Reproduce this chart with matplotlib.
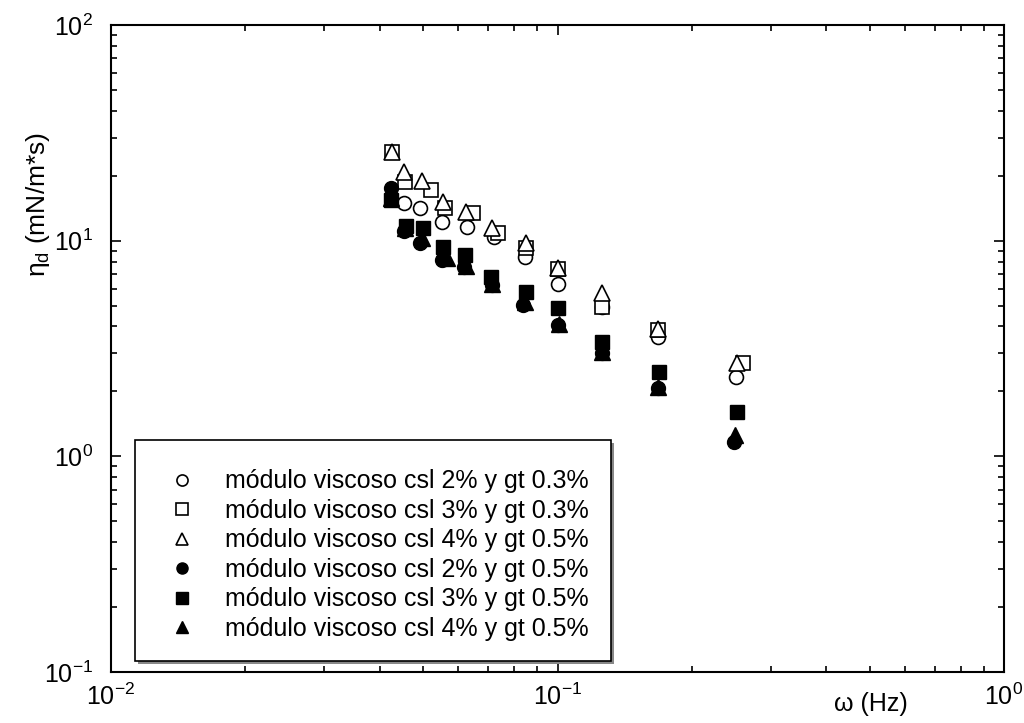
import matplotlib
matplotlib.use("Agg")
import matplotlib.pyplot as plt
from matplotlib.patches import Rectangle
from matplotlib.ticker import LogLocator, LogFormatterSciNotation, NullFormatter

plt.rcParams['font.family'] = ['Liberation Sans', 'DejaVu Sans']
plt.rcParams['mathtext.fontset'] = 'custom'
plt.rcParams['mathtext.rm'] = 'Liberation Sans'
plt.rcParams['mathtext.it'] = 'Liberation Sans:italic'
plt.rcParams['mathtext.default'] = 'regular'

# Frequency (Hz) and dilatational viscosity (mN/m*s) for each formulation
x_c2_gt03 = [0.0452, 0.0491, 0.0550, 0.0628, 0.0719, 0.0844, 0.100, 0.126, 0.1675, 0.2515]
y_c2_gt03 = [15.0, 14.2, 12.2, 11.6, 10.4, 8.4, 6.3, 4.9, 3.58, 2.33]

x_c3_gt03 = [0.0425, 0.0456, 0.0520, 0.0561, 0.0648, 0.0734, 0.0852, 0.100, 0.126, 0.1675, 0.2607]
y_c3_gt03 = [25.8, 18.7, 17.2, 14.2, 13.4, 10.9, 9.25, 7.4, 4.93, 3.86, 2.71]

x_c4_gt05o = [0.0425, 0.0454, 0.0496, 0.0555, 0.0625, 0.0715, 0.0852, 0.100, 0.126, 0.1675, 0.2528]
y_c4_gt05o = [25.8, 20.8, 18.9, 15.1, 13.6, 11.5, 9.76, 7.47, 5.72, 3.90, 2.71]

x_c2_gt05 = [0.0423, 0.0452, 0.0493, 0.0552, 0.0616, 0.0715, 0.0835, 0.100, 0.126, 0.1675, 0.2490]
y_c2_gt05 = [17.6, 11.1, 9.76, 8.14, 7.55, 6.23, 5.03, 4.07, 3.02, 2.07, 1.17]

x_c3_gt05 = [0.0423, 0.0459, 0.0499, 0.0555, 0.0622, 0.0708, 0.0848, 0.100, 0.126, 0.1684, 0.2528]
y_c3_gt05 = [15.4, 11.7, 11.4, 9.35, 8.59, 6.79, 5.78, 4.88, 3.39, 2.46, 1.61]

x_c4_gt05 = [0.0423, 0.0456, 0.0496, 0.0567, 0.0625, 0.0715, 0.0844, 0.101, 0.126, 0.1675, 0.2502]
y_c4_gt05 = [15.8, 11.5, 10.3, 8.3, 7.6, 6.3, 5.2, 4.1, 3.05, 2.1, 1.26]

labels = [
    "módulo viscoso csl 2% y gt 0.3%",
    "módulo viscoso csl 3% y gt 0.3%",
    "módulo viscoso csl 4% y gt 0.5%",
    "módulo viscoso csl 2% y gt 0.5%",
    "módulo viscoso csl 3% y gt 0.5%",
    "módulo viscoso csl 4% y gt 0.5%",
]

fig = plt.figure(figsize=(10.24, 7.23), dpi=100)
ax = fig.add_axes([111 / 1024, 1 - 672 / 723, 893 / 1024, 647 / 723])

open_kw = dict(ls='none', mfc='white', mec='black', mew=1.2)
fill_kw = dict(ls='none', mfc='black', mec='black', mew=1.0)

h1, = ax.plot(x_c2_gt03, y_c2_gt03, marker='o', ms=10, **open_kw)
h2, = ax.plot(x_c3_gt03, y_c3_gt03, marker='s', ms=10, **open_kw)
h3, = ax.plot(x_c4_gt05o, y_c4_gt05o, marker='^', ms=11, **open_kw)
h4, = ax.plot(x_c2_gt05, y_c2_gt05, marker='o', ms=10, **fill_kw)
h5, = ax.plot(x_c3_gt05, y_c3_gt05, marker='s', ms=10, **fill_kw)
h6, = ax.plot(x_c4_gt05, y_c4_gt05, marker='^', ms=11, **fill_kw)

ax.set_xscale('log')
ax.set_yscale('log')
ax.set_xlim(1e-2, 1e0)
ax.set_ylim(1e-1, 1e2)

for axis in (ax.xaxis, ax.yaxis):
    axis.set_major_locator(LogLocator(base=10, numticks=10))
    axis.set_minor_locator(LogLocator(base=10, subs=range(2, 10), numticks=10))
    axis.set_major_formatter(LogFormatterSciNotation())
    axis.set_minor_formatter(NullFormatter())

ax.tick_params(which='both', direction='in', top=True, right=True, width=1.2,
               labelsize=18)
ax.tick_params(which='major', length=7, pad=13)
ax.tick_params(which='minor', length=4)
ax.tick_params(axis='x', which='major', pad=8)
for s in ax.spines.values():
    s.set_linewidth(1.5)

ax.set_xlabel('ω (Hz)', fontsize=18)
ax.xaxis.set_label_coords(0.851, -0.031)
ax.set_ylabel(r'$\eta_{d}$ (mN/m*s)', fontsize=19)
ax.yaxis.set_label_coords(-0.066, 0.723)

# legend frame with a light drop shadow
x0, y0 = 0.0269, 0.0170
w, h = 0.560 - 0.0269, 0.3586 - 0.0170
ax.add_patch(Rectangle((x0 + 0.003, y0 - 0.004), w, h, transform=ax.transAxes,
                       facecolor='#888888', edgecolor='none', zorder=4))
ax.add_patch(Rectangle((x0, y0), w, h, transform=ax.transAxes,
                       facecolor='white', edgecolor='black', lw=1.2, zorder=5))

leg = ax.legend([h1, h2, h3, h4, h5, h6], labels, loc='upper left',
                bbox_to_anchor=(0.052, 0.3325), frameon=False, fontsize=18,
                handlelength=1.0, handletextpad=1.2, labelspacing=0.22,
                borderpad=0, markerscale=0.8)
leg.set_zorder(6)

fig.savefig('out.png', dpi=100)
